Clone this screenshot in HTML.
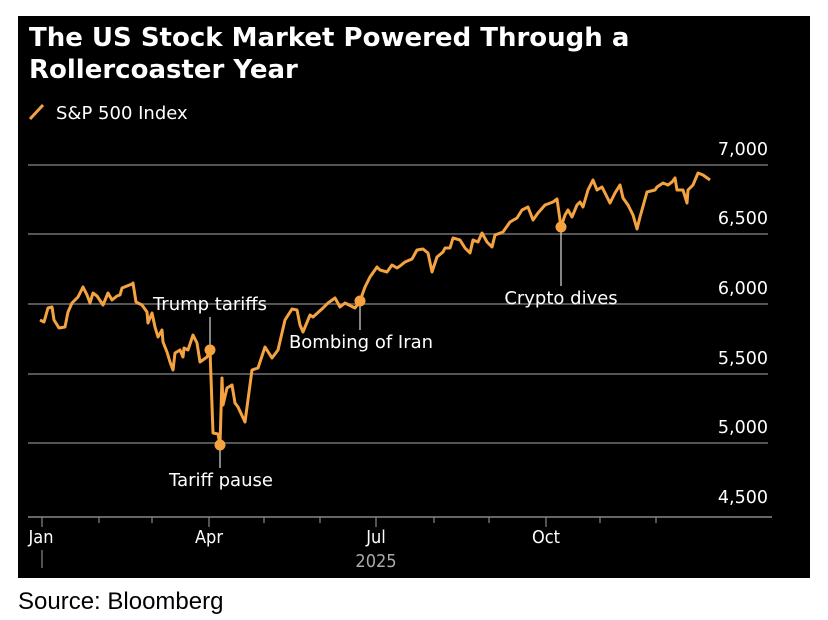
<!DOCTYPE html>
<html><head><style>
body{margin:0;background:#fff;width:828px;height:620px;overflow:hidden}
svg{display:block}
</style></head><body>
<svg width="828" height="620" xmlns="http://www.w3.org/2000/svg">
<rect x="0" y="0" width="828" height="620" fill="#fff"/>
<rect x="18" y="16" width="792" height="562" fill="#000"/>
<g font-family="DejaVu Sans, sans-serif" fill="#fff">
<text x="29" y="46" font-size="26" font-weight="bold">The US Stock Market Powered Through a</text>
<text x="29" y="78" font-size="26" font-weight="bold">Rollercoaster Year</text>
<text x="56" y="119" font-size="18">S&amp;P 500 Index</text>
</g>
<line x1="30" y1="119" x2="43" y2="105" stroke="#f4a340" stroke-width="3"/>
<g stroke="#555" stroke-width="2">
<line x1="28" y1="165" x2="768" y2="165"/>
<line x1="28" y1="234" x2="768" y2="234"/>
<line x1="28" y1="304" x2="768" y2="304"/>
<line x1="28" y1="374" x2="768" y2="374"/>
<line x1="28" y1="443" x2="768" y2="443"/>
</g>
<line x1="28" y1="517" x2="772" y2="517" stroke="#888" stroke-width="1.5"/>
<g stroke="#888" stroke-width="1.2">
<line x1="42" y1="517" x2="42" y2="527"/><line x1="99" y1="517" x2="99" y2="523"/><line x1="152" y1="517" x2="152" y2="523"/>
<line x1="209" y1="517" x2="209" y2="527"/><line x1="264" y1="517" x2="264" y2="523"/><line x1="320" y1="517" x2="320" y2="523"/>
<line x1="376" y1="517" x2="376" y2="527"/><line x1="434" y1="517" x2="434" y2="523"/><line x1="489" y1="517" x2="489" y2="523"/>
<line x1="546" y1="517" x2="546" y2="527"/><line x1="600" y1="517" x2="600" y2="523"/><line x1="656" y1="517" x2="656" y2="523"/>
<line x1="42" y1="550" x2="42" y2="568"/>
</g>
<g font-family="DejaVu Sans, sans-serif" font-size="17.5" fill="#fff" text-anchor="end">
<text x="768" y="155">7,000</text>
<text x="768" y="224">6,500</text>
<text x="768" y="294">6,000</text>
<text x="768" y="364">5,500</text>
<text x="768" y="433">5,000</text>
<text x="768" y="503">4,500</text>
</g>
<g font-family="DejaVu Sans, sans-serif" font-size="18" fill="#fff" text-anchor="middle" style="font-stretch:condensed">
<text x="41" y="543">Jan</text>
<text x="209" y="543">Apr</text>
<text x="376" y="543">Jul</text>
<text x="546" y="543">Oct</text>
<text x="376" y="567" fill="#aaa">2025</text>
</g>
<g stroke="#ddd" stroke-width="1.2">
<line x1="210" y1="317" x2="210" y2="350"/>
<line x1="220" y1="445" x2="220" y2="468"/>
<line x1="360" y1="301" x2="360" y2="330"/>
<line x1="561" y1="227" x2="561" y2="286"/>
</g>
<polyline fill="none" stroke="#f4a340" stroke-width="3" stroke-linejoin="round" points="40,320 44,322 48,308 52,307 54,320 59,328 65,327 68,312 72,303 78,297 83,287 87,295 90,303 93,293 97,296 103,305 108,293 112,300 117,296 120,295 122,288 132,284 133,283 136,302 142,305 147,312 148,323 152,313 155,327 158,337 162,330 163,342 167,352 170,362 173,370 175,353 180,350 183,357 184,348 188,350 193,335 197,343 200,362 207,357 210,350 213,433 218,434 220,445 222,378 223,405 227,388 232,385 235,403 238,407 245,422 252,370 258,368 265,347 272,358 278,350 285,320 292,309 297,310 300,325 303,332 310,315 313,317 323,308 328,303 335,298 340,307 345,303 355,308 360,301 365,287 370,277 377,267 380,270 387,272 392,265 397,268 400,266 405,262 412,259 417,250 423,249 428,253 432,272 437,257 443,252 445,248 450,248 453,238 460,240 465,248 470,253 473,240 478,242 482,233 487,242 492,247 495,235 503,232 510,222 517,218 522,210 528,207 533,220 538,213 545,205 553,202 557,199 560,220 561,227 565,215 568,210 572,217 577,205 580,202 583,207 588,190 593,180 597,190 602,187 607,197 610,203 615,193 620,185 623,198 628,205 633,215 637,229 640,217 647,192 655,190 657,187 663,183 668,185 672,182 675,178 677,190 683,190 687,203 688,190 693,185 698,173 703,175 710,180"/>
<g fill="#f4a340">
<circle cx="210" cy="350" r="5.5"/><circle cx="220" cy="445" r="5.5"/>
<circle cx="360" cy="301" r="5.5"/><circle cx="561" cy="227" r="5.5"/>
</g>
<g font-family="DejaVu Sans, sans-serif" font-size="18" fill="#fff" text-anchor="middle">
<text x="210" y="310">Trump tariffs</text>
<text x="221" y="486">Tariff pause</text>
<text x="361" y="348">Bombing of Iran</text>
<text x="561" y="304">Crypto dives</text>
</g>
<text x="18" y="609" font-family="Liberation Sans, Arial, sans-serif" font-size="24" fill="#000">Source: Bloomberg</text>
</svg>
</body></html>
